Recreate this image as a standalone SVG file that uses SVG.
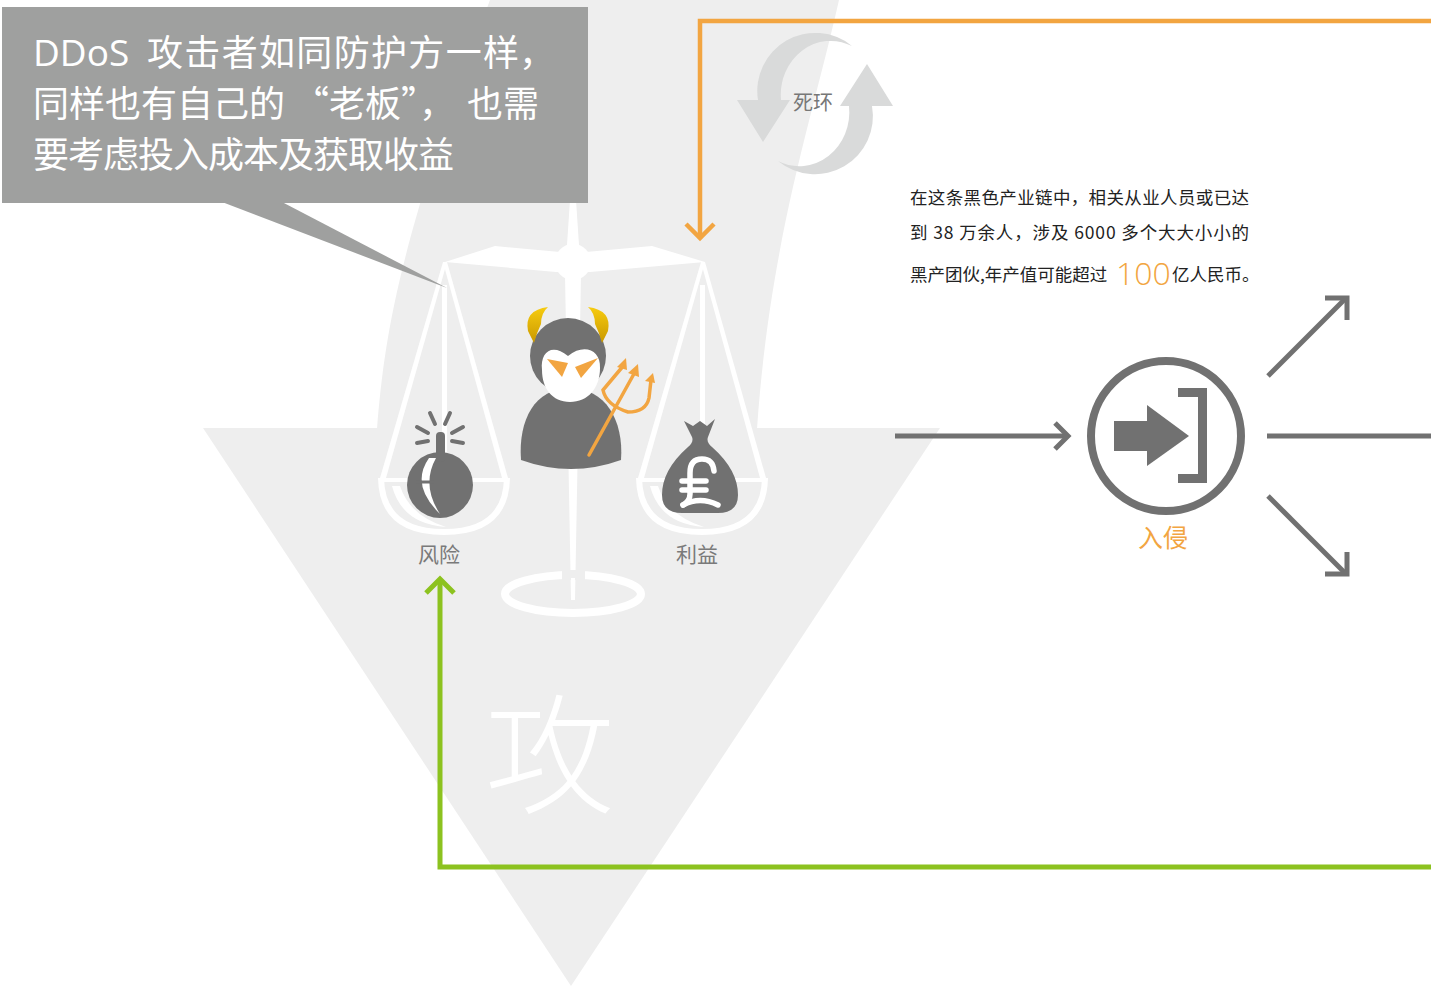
<svg xmlns="http://www.w3.org/2000/svg" width="1431" height="993" viewBox="0 0 1431 993">
  <defs>
    <style>
      .cjk { font-family: "Noto Sans CJK SC", "Noto Sans", sans-serif; }
      .callout-text { font-size: 36px; fill: #ffffff; }
      .para { font-size: 17.5px; fill: #222222; }
      .pan-label { font-size: 21px; fill: #7a7a7a; text-anchor: middle; }
      .icon { fill: #717171; }
      .white { fill: #ffffff; }
      .conn-gray { stroke: #717171; stroke-width: 5; fill: none; }
      .conn-orange { stroke: #f2a541; stroke-width: 4.5; fill: none; }
      .conn-green { stroke: #8cc21f; stroke-width: 5; fill: none; }
      .spark { stroke: #717171; stroke-width: 4; stroke-linecap: round; }
      .cycle { fill: #d9dada; }
    </style>
    <linearGradient id="hornGrad" x1="0" y1="0" x2="0" y2="1">
      <stop offset="0" stop-color="#f7cc10"/>
      <stop offset="1" stop-color="#c99800"/>
    </linearGradient>
  </defs>

  <rect width="1431" height="993" fill="#ffffff"/>

  <!-- big downward arrow in the background -->
  <g id="backdrop" fill="#eeeeee">
    <path d="M490,0 L839,0 C812,120 770,240 757,429 L377,429 C385,330 400,240 490,0 Z"/>
    <polygon points="203,428 940,428 571,986"/>
    <text class="cjk" x="550" y="803" font-size="130" font-weight="300" fill="#ffffff" text-anchor="middle">攻</text>
  </g>

  <!-- balance scale -->
  <g id="scale">
    <!-- pole -->
    <polygon class="white" points="570,200 576,200 581,275 575,600 571,600 565,275"/>
    <!-- base ring -->
    <ellipse cx="573" cy="594" rx="68" ry="19" fill="none" stroke="#ffffff" stroke-width="8"/>
    <rect x="562" y="570" width="23" height="10" fill="#eeeeee"/>
    <polygon class="white" points="571,578 575,578 574,600 572,600"/>
    <!-- beam -->
    <polygon class="white" points="445,262 495,246 560,252 586,252 652,246 705,262 590,272 556,272"/>
    <circle class="white" cx="573" cy="262" r="18"/>
  </g>

  <g id="pan-left">
    <polygon class="white" points="443,262 447,262 386,478 380,478"/>
    <polygon class="white" points="443,262 447,262 508,478 502,478"/>
    <rect class="white" x="442" y="285" width="5" height="195"/>
    <path d="M381,478 Q382,532 444,532 Q506,532 507,478" fill="none" stroke="#ffffff" stroke-width="6"/>
    <line x1="384" y1="480" x2="504" y2="480" stroke="#ffffff" stroke-width="4"/>
    <path class="white" d="M392,486 Q402,524 446,527 Q410,516 400,486 Z"/>
    <!-- bomb -->
    <circle class="icon" cx="440" cy="485" r="33"/>
    <rect class="icon" x="436" y="432" width="9" height="30" rx="4"/>
    <path class="white" d="M429,458 Q410,485 440,514 Q421,485 436,458 Z"/>
    <line x1="416" y1="482" x2="434" y2="482" stroke="#717171" stroke-width="3"/>
    <line class="spark" x1="430" y1="413" x2="435" y2="424"/>
    <line class="spark" x1="450" y1="413" x2="445" y2="424"/>
    <line class="spark" x1="417" y1="427" x2="428" y2="433"/>
    <line class="spark" x1="463" y1="427" x2="452" y2="433"/>
    <line class="spark" x1="417" y1="443" x2="428" y2="441"/>
    <line class="spark" x1="463" y1="443" x2="452" y2="441"/>
    <text class="cjk pan-label" x="439" y="562">风险</text>
  </g>

  <g id="pan-right">
    <polygon class="white" points="701,262 705,262 644,478 638,478"/>
    <polygon class="white" points="701,262 705,262 766,478 760,478"/>
    <rect class="white" x="700" y="285" width="5" height="150"/>
    <path d="M639,478 Q640,532 702,532 Q764,532 765,478" fill="none" stroke="#ffffff" stroke-width="6"/>
    <line x1="642" y1="480" x2="762" y2="480" stroke="#ffffff" stroke-width="4"/>
    <path class="white" d="M650,486 Q660,524 704,527 Q668,516 658,486 Z"/>
    <!-- money bag -->
    <path class="icon" d="M684,421 L693,426 L700,421 L707,426 L715,419 L708,437 Q706,442 712,447 Q738,470 738,495 Q738,513 718,513 L682,513 Q662,513 662,495 Q662,470 688,447 Q694,442 692,437 Z"/>
    <g fill="none" stroke="#ffffff" stroke-width="5.5" stroke-linecap="round">
      <path d="M714,471 Q713,459 702,459 Q690,459 690,473 L690,494 Q690,501 683,505"/>
      <path d="M683,505 Q700,496 718,505"/>
      <line x1="682" y1="481" x2="706" y2="481"/>
      <line x1="682" y1="490" x2="706" y2="490"/>
    </g>
    <text class="cjk pan-label" x="697" y="562">利益</text>
  </g>

  <!-- hooded devil -->
  <g id="devil">
    <path class="icon" d="M521,460 C518,420 535,388 570,388 C605,388 624,420 621,460 Q571,478 521,460 Z"/>
    <circle class="icon" cx="568" cy="356" r="38"/>
    <path class="white" d="M542,370 C540,352 552,343 568,356 C584,343 601,350 600,368 C600,388 588,402 570,402 C552,402 542,388 542,370 Z"/>
    <polygon fill="#f2a541" points="547,359 568,363 562,377"/>
    <polygon fill="#f2a541" points="598,358 575,367 581,378"/>
    <path fill="url(#hornGrad)" d="M548,307 Q524,310 528,331 L534,343 Q537,332 541,324 Q541,313 548,307 Z"/>
    <path fill="url(#hornGrad)" d="M588,307 Q612,310 608,331 L602,343 Q599,332 595,324 Q595,313 588,307 Z"/>
    <g stroke="#f2a541" stroke-width="3.5" fill="none" stroke-linecap="round">
      <line x1="589" y1="455" x2="635" y2="372"/>
      <path d="M624,365 L603,390 Q606,405 628,412 Q646,412 649,398 L651,380"/>
    </g>
    <g fill="#f2a541">
      <polygon points="638,364 628,373 639,377"/>
      <polygon points="626,358 617,367 627,370"/>
      <polygon points="653,373 645,381 655,383"/>
    </g>
  </g>

  <!-- loop icon -->
  <g id="loop">
    <path class="cycle" d="M852,46 A58,58 0 0 0 758,100 L737,100 L763,142 L790,100 L781,100 A50,54 0 0 1 852,46 Z"/>
    <path class="cycle" d="M778,161 A58,58 0 0 0 872,106 L893,106 L867,64 L840,106 L849,106 A50,54 0 0 1 778,161 Z"/>
    <text class="cjk" x="813" y="110" font-size="20" fill="#777777" text-anchor="middle">死环</text>
  </g>

  <!-- intrusion icon -->
  <g id="intrusion">
    <circle cx="1166" cy="436" r="75" fill="none" stroke="#717171" stroke-width="8"/>
    <rect class="icon" x="1114" y="421" width="36" height="30"/>
    <polygon class="icon" points="1147,405 1189,436 1147,466"/>
    <polygon class="icon" points="1178,388 1207,388 1207,483 1178,483 1178,474 1198,474 1198,397 1178,397"/>
    <text class="cjk" x="1163" y="547" font-size="25" fill="#f2a541" text-anchor="middle">入侵</text>
  </g>

  <!-- industry note -->
  <g id="note" class="cjk para">
    <text x="910" y="204" textLength="339" lengthAdjust="spacing">在这条黑色产业链中，相关从业人员或已达</text>
    <text x="910" y="239" textLength="339" lengthAdjust="spacing">到 38 万余人，涉及 6000 多个大大小小的</text>
    <text x="910" y="281">黑产团伙,年产值可能超过<tspan x="1116" y="285" font-size="32" font-weight="300" fill="#f2a541" font-family="Open Sans, sans-serif">100</tspan><tspan x="1172" y="281">亿人民币。</tspan></text>
  </g>

  <!-- connectors -->
  <g id="connectors">
    <polyline class="conn-orange" points="1431,21 700,21 700,237"/>
    <polyline class="conn-orange" points="686,224 700,238 714,224"/>
    <polyline class="conn-green" points="1431,867 440,867 440,580"/>
    <polyline class="conn-green" points="426,593 440,579 454,593"/>
    <line class="conn-gray" x1="895" y1="436" x2="1067" y2="436"/>
    <polyline class="conn-gray" points="1055,423 1068,436 1055,449"/>
    <line class="conn-gray" x1="1267" y1="436" x2="1431" y2="436"/>
    <line class="conn-gray" x1="1268" y1="376" x2="1346" y2="298"/>
    <polyline class="conn-gray" points="1325,298 1347,298 1347,320"/>
    <line class="conn-gray" x1="1268" y1="496" x2="1346" y2="574"/>
    <polyline class="conn-gray" points="1325,574 1347,574 1347,552"/>
  </g>

  <!-- speech bubble -->
  <g id="callout">
    <rect x="2" y="7" width="586" height="196" fill="#9fa09f"/>
    <polygon points="222,202 282,202 447,288" fill="#9fa09f"/>
    <g class="cjk callout-text">
      <text x="33" y="66"><tspan font-family="Open Sans, sans-serif" font-size="37">DDoS</tspan><tspan x="147" textLength="372" lengthAdjust="spacing">攻击者如同防护方一样</tspan><tspan x="519">，</tspan></text>
      <text x="33" y="117">同样也有自己的<tspan x="293">“</tspan><tspan x="329">老板”，</tspan><tspan x="467">也需</tspan></text>
      <text x="33" y="168" textLength="421" lengthAdjust="spacing">要考虑投入成本及获取收益</text>
    </g>
  </g>
</svg>
